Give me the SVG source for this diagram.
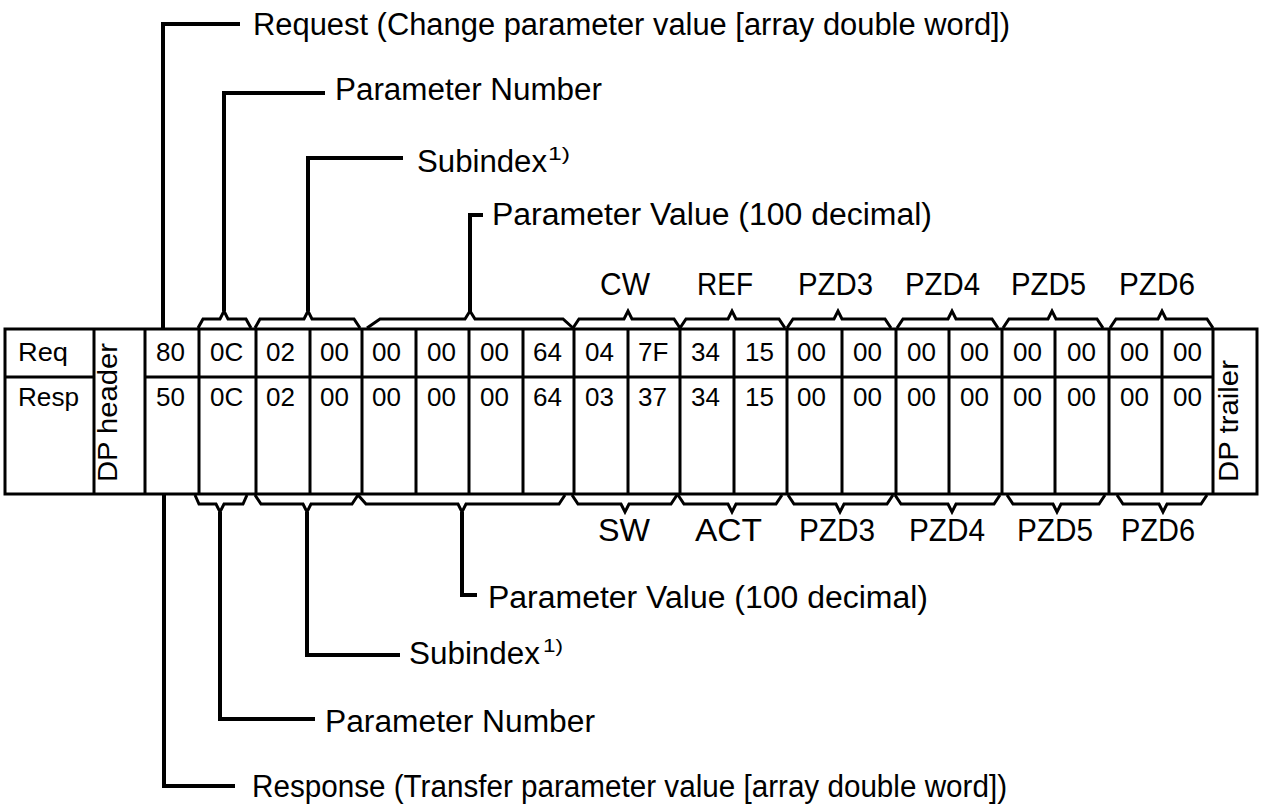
<svg xmlns="http://www.w3.org/2000/svg" width="1261" height="809" viewBox="0 0 1261 809">
<style>
.t{font-family:"Liberation Sans",Arial,Helvetica,sans-serif;fill:#000}
.lbl{font-size:31px}
.cell{font-size:26px}
.vert{font-size:27px}
.sup{font-size:19px}
.grid{stroke:#000;stroke-width:3;fill:none}
.brace{stroke:#000;stroke-width:3;fill:none;stroke-linejoin:miter}
.lead{stroke:#000;stroke-width:4;fill:none;stroke-linejoin:miter}
</style>
<rect width="1261" height="809" fill="#fff"/>
<g id="table">
<rect class="grid" x="5" y="329" width="1252" height="165"/>
<path class="grid" d="M5,377H94M145,377H1213"/>
<path class="grid" d="M94,329V494M145,329V494M199,329V494M256,329V494M310,329V494M362,329V494M416,329V494M469,329V494M523,329V494M574,329V494M628,329V494M680,329V494M734,329V494M787,329V494M842,329V494M896,329V494M949,329V494M1002,329V494M1055,329V494M1109,329V494M1162,329V494M1213,329V494"/>
<text class="t cell" x="18" y="361" textLength="50" lengthAdjust="spacingAndGlyphs">Req</text>
<text class="t cell" x="18" y="406" textLength="61" lengthAdjust="spacingAndGlyphs">Resp</text>
<text class="t vert" transform="translate(117,482) rotate(-90)" textLength="139" lengthAdjust="spacingAndGlyphs">DP header</text>
<text class="t vert" transform="translate(1238,482) rotate(-90)" textLength="122" lengthAdjust="spacingAndGlyphs">DP trailer</text>
<g class="t cell">
<text x="156" y="361">80</text><text x="156" y="406">50</text>
<text x="210" y="361">0C</text><text x="210" y="406">0C</text>
<text x="266" y="361">02</text><text x="266" y="406">02</text>
<text x="320" y="361">00</text><text x="320" y="406">00</text>
<text x="372" y="361">00</text><text x="372" y="406">00</text>
<text x="427" y="361">00</text><text x="427" y="406">00</text>
<text x="480" y="361">00</text><text x="480" y="406">00</text>
<text x="533" y="361">64</text><text x="533" y="406">64</text>
<text x="585" y="361">04</text><text x="585" y="406">03</text>
<text x="638" y="361">7F</text><text x="638" y="406">37</text>
<text x="691" y="361">34</text><text x="691" y="406">34</text>
<text x="745" y="361">15</text><text x="745" y="406">15</text>
<text x="797" y="361">00</text><text x="797" y="406">00</text>
<text x="853" y="361">00</text><text x="853" y="406">00</text>
<text x="907" y="361">00</text><text x="907" y="406">00</text>
<text x="960" y="361">00</text><text x="960" y="406">00</text>
<text x="1013" y="361">00</text><text x="1013" y="406">00</text>
<text x="1067" y="361">00</text><text x="1067" y="406">00</text>
<text x="1120" y="361">00</text><text x="1120" y="406">00</text>
<text x="1173" y="361">00</text><text x="1173" y="406">00</text>
</g>
</g>
<g id="braces-top">
<path class="brace" d="M198,328L203,319H220L224,311L228,319H246L251,328"/>
<path class="brace" d="M255,328L260,319H304L308,311L312,319H354L360,328"/>
<path class="brace" d="M367,328L380,319H465L470,311L475,319H563L573,328"/>
<path class="brace" d="M573,328L579,319H624L628,311L632,319H674L680,328"/>
<path class="brace" d="M680,328L686,319H728L732,311L736,319H779L785,328"/>
<path class="brace" d="M787,328L793,319H834L838,311L842,319H885L891,328"/>
<path class="brace" d="M897,328L903,319H948L952,311L956,319H992L998,328"/>
<path class="brace" d="M1003,328L1009,319H1048L1052,311L1056,319H1097L1103,328"/>
<path class="brace" d="M1110,328L1116,319H1158L1162,311L1166,319H1207L1213,328"/>
</g>
<g id="braces-bottom">
<path class="brace" d="M195,495L199,504H216L220,512L224,504H243L247,495"/>
<path class="brace" d="M255,495L261,504H303L307,512L311,504H352L358,495"/>
<path class="brace" d="M358,495L366,504H458L462,512L466,504H559L565,495"/>
<path class="brace" d="M572,495L578,504H621L625,512L629,504H671L677,495"/>
<path class="brace" d="M678,495L684,504H728L732,512L736,504H776L782,495"/>
<path class="brace" d="M788,495L794,504H836L840,512L844,504H887L893,495"/>
<path class="brace" d="M895,495L901,504H948L952,512L956,504H994L1000,495"/>
<path class="brace" d="M1007,495L1013,504H1053L1057,512L1061,504H1099L1105,495"/>
<path class="brace" d="M1117,495L1123,504H1159L1163,512L1167,504H1201L1207,495"/>
</g>
<g id="connectors">
<path class="lead" d="M163,329V24H240"/>
<path class="lead" d="M224,311V93H325"/>
<path class="lead" d="M308,311V158H403"/>
<path class="lead" d="M470,312V215H483"/>
<path class="lead" d="M164,494V786H235"/>
<path class="lead" d="M220,512V719H315"/>
<path class="lead" d="M307,512V655H400"/>
<path class="lead" d="M462,512V595H477"/>
</g>
<g id="label-request"><text class="t lbl" x="253" y="35" textLength="757" lengthAdjust="spacingAndGlyphs">Request (Change parameter value [array double word])</text></g>
<g id="label-pnum-top"><text class="t lbl" x="335" y="100" textLength="267" lengthAdjust="spacingAndGlyphs">Parameter Number</text></g>
<g id="label-sub-top"><text class="t lbl" x="417" y="172" textLength="130" lengthAdjust="spacingAndGlyphs">Subindex</text><text class="t sup" x="548" y="160" textLength="22" lengthAdjust="spacingAndGlyphs">1)</text></g>
<g id="label-pv-top"><text class="t lbl" x="492" y="225" textLength="440" lengthAdjust="spacingAndGlyphs">Parameter Value (100 decimal)</text></g>
<g id="labels-top-pzd" class="t lbl">
<text x="600" y="295" textLength="50" lengthAdjust="spacingAndGlyphs">CW</text>
<text x="697" y="295" textLength="56" lengthAdjust="spacingAndGlyphs">REF</text>
<text x="798" y="295" textLength="75" lengthAdjust="spacingAndGlyphs">PZD3</text>
<text x="905" y="295" textLength="75" lengthAdjust="spacingAndGlyphs">PZD4</text>
<text x="1011" y="295" textLength="75" lengthAdjust="spacingAndGlyphs">PZD5</text>
<text x="1119" y="295" textLength="76" lengthAdjust="spacingAndGlyphs">PZD6</text>
</g>
<g id="labels-bottom-pzd" class="t lbl">
<text x="598" y="541" textLength="52" lengthAdjust="spacingAndGlyphs">SW</text>
<text x="695" y="541" textLength="67" lengthAdjust="spacingAndGlyphs">ACT</text>
<text x="799" y="541" textLength="76" lengthAdjust="spacingAndGlyphs">PZD3</text>
<text x="909" y="541" textLength="76" lengthAdjust="spacingAndGlyphs">PZD4</text>
<text x="1017" y="541" textLength="76" lengthAdjust="spacingAndGlyphs">PZD5</text>
<text x="1121" y="541" textLength="74" lengthAdjust="spacingAndGlyphs">PZD6</text>
</g>
<g id="label-pv-bottom"><text class="t lbl" x="488" y="608" textLength="440" lengthAdjust="spacingAndGlyphs">Parameter Value (100 decimal)</text></g>
<g id="label-sub-bottom"><text class="t lbl" x="409" y="664" textLength="131" lengthAdjust="spacingAndGlyphs">Subindex</text><text class="t sup" x="543" y="652" textLength="20" lengthAdjust="spacingAndGlyphs">1)</text></g>
<g id="label-pnum-bottom"><text class="t lbl" x="325" y="732" textLength="270" lengthAdjust="spacingAndGlyphs">Parameter Number</text></g>
<g id="label-response"><text class="t lbl" x="252" y="797" textLength="755" lengthAdjust="spacingAndGlyphs">Response (Transfer parameter value [array double word])</text></g>
</svg>
